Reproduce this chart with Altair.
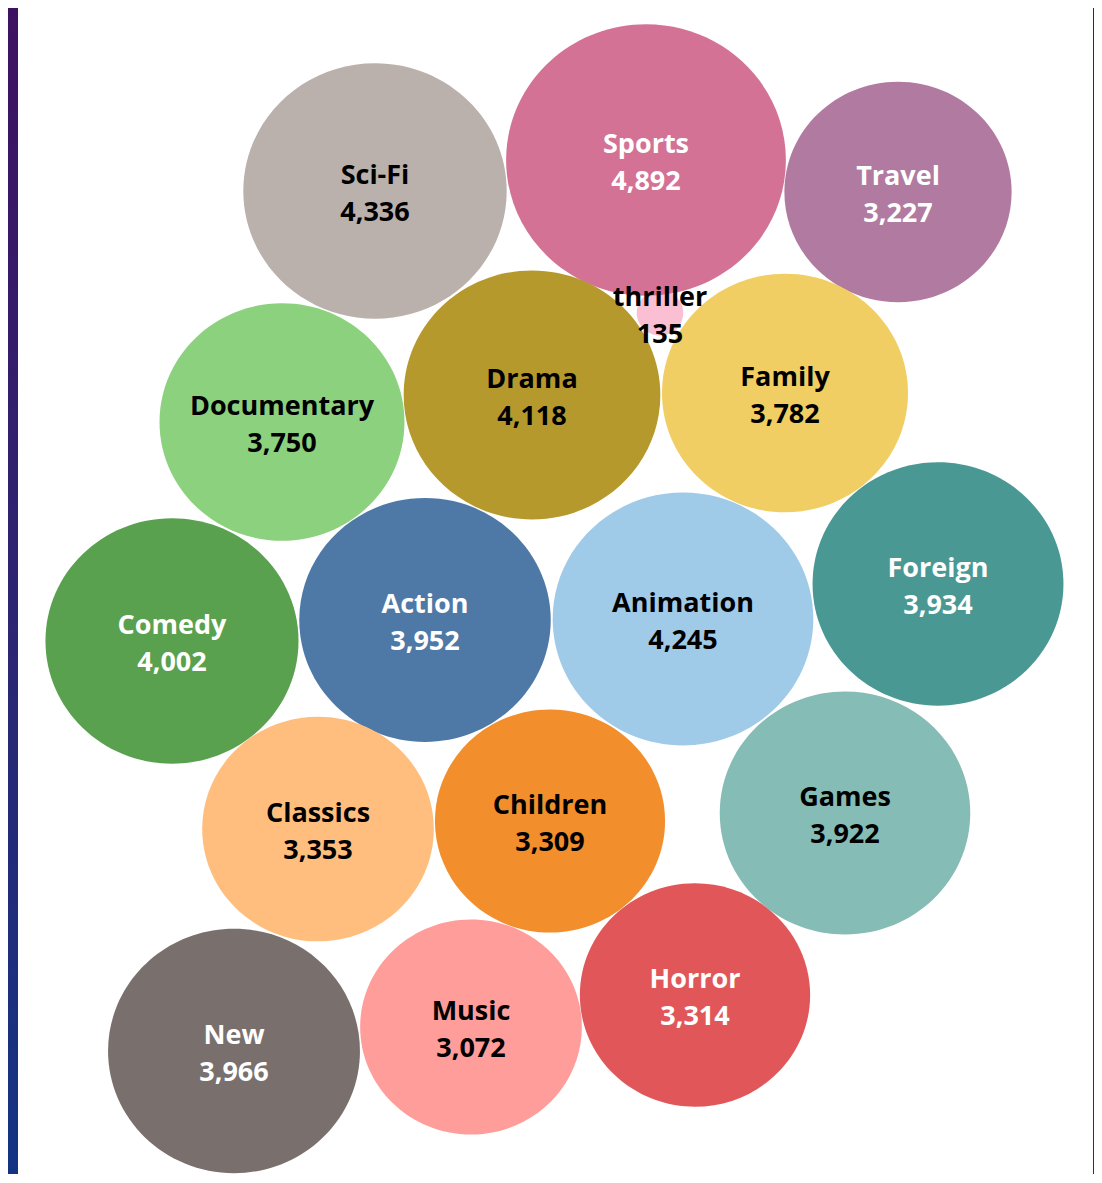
import altair as alt
import pandas as pd

# ---- data ----
genres = ["thriller", "Sci-Fi", "Sports", "Travel", "Documentary", "Drama", "Family",
          "Comedy", "Action", "Animation", "Foreign", "Classics", "Children", "Games",
          "New", "Music", "Horror"]
values = [135, 4336, 4892, 3227, 3750, 4118, 3782,
          4002, 3952, 4245, 3934, 3353, 3309, 3922,
          3966, 3072, 3314]
# packed-bubble layout positions (as laid out in the original)
pos_x = [660, 375, 646, 898, 282, 532, 785,
         172, 425, 683, 938, 318, 550, 845,
         234, 471, 695]
pos_y = [313, 191, 160, 192, 422, 395, 393,
         641, 620, 619, 584, 829, 821, 813,
         1051, 1027, 995]

# ---- styles ----
fills = ["#fabfd2", "#bab0ac", "#d37295", "#b07aa1", "#8cd17d", "#b6992d", "#f1ce63",
         "#59a14f", "#4e79a7", "#a0cbe8", "#499894", "#ffbe7d", "#f28e2b", "#86bcb6",
         "#79706e", "#ff9d9a", "#e15759"]
white_labels = ["Sports", "Travel", "Comedy", "Action", "Foreign", "New", "Horror"]

df = pd.DataFrame({"genre": genres, "value": values, "px": pos_x, "py": pos_y})
df["order"] = range(len(df))

W, H = 1086, 1166

xs = alt.X("px:Q", scale=alt.Scale(domain=[8, 8 + W], nice=False, zero=False), axis=None)
ys = alt.Y("py:Q", scale=alt.Scale(domain=[8, 8 + H], nice=False, zero=False, reverse=True), axis=None)

bg = alt.Chart(pd.DataFrame({"a": [0]})).mark_rect(
    color=alt.Gradient(
        gradient="linear",
        stops=[alt.GradientStop(color="#3f1161", offset=0),
               alt.GradientStop(color="#2b2673", offset=0.5),
               alt.GradientStop(color="#0f3686", offset=1)],
        x1=0, x2=0.3, y1=0, y2=1,
    )
).encode(x=alt.value(0), x2=alt.value(W), y=alt.value(0), y2=alt.value(H))

panel = alt.Chart(pd.DataFrame({"a": [0]})).mark_rect(color="white").encode(
    x=alt.value(10), x2=alt.value(1085), y=alt.value(0), y2=alt.value(H)
)

ellipse = "M -1 0 A 1 0.97 0 1 0 1 0 A 1 0.97 0 1 0 -1 0 Z"

bubbles = alt.Chart(df).mark_point(
    shape=ellipse, filled=True, opacity=1, strokeWidth=0
).encode(
    x=xs, y=ys,
    size=alt.Size("value:Q", scale=alt.Scale(type="linear", domain=[0, 4892], range=[0, 78272]), legend=None),
    color=alt.Color("genre:N", scale=alt.Scale(domain=genres, range=fills), legend=None),
    order=alt.Order("order:Q"),
)

txt_color = alt.condition(
    alt.FieldOneOfPredicate(field="genre", oneOf=white_labels),
    alt.value("white"), alt.value("black")
)

names = alt.Chart(df).mark_text(
    font="Open Sans", fontSize=27, fontWeight="bold", dy=-15, baseline="middle", align="center"
).encode(x=xs, y=ys, text="genre:N", color=txt_color)

nums = alt.Chart(df).mark_text(
    font="Open Sans", fontSize=27, fontWeight="bold", dy=22, baseline="middle", align="center"
).encode(x=xs, y=ys, text=alt.Text("value:Q", format=","), color=txt_color)

chart = alt.layer(bg, panel, bubbles, names, nums).properties(
    width=W, height=H, padding=0, autosize=alt.AutoSizeParams(type="none")
).configure_view(stroke=None, strokeWidth=0)

chart.save("out.html", embed_options={"renderer": "svg", "actions": False})
